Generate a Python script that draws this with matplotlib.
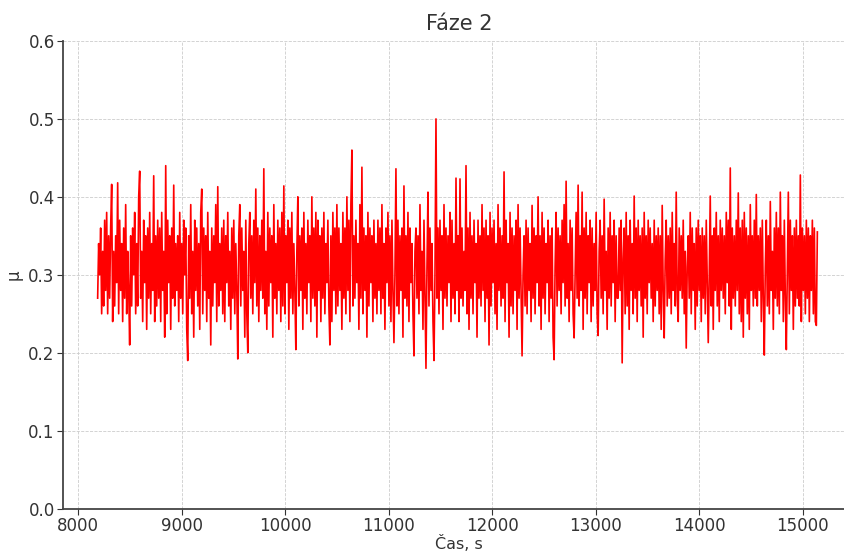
import numpy as np
import matplotlib.pyplot as plt

# friction coefficient samples, phase 2 (8190 s .. 15140 s, evenly sampled)
t_start = 8190
t_end = 15140
mu_vals = [
    0.27, 0.34, 0.30, 0.36, 0.25, 0.33, 0.26, 0.37, 0.28, 0.38, 0.25, 0.35, 0.27, 0.36, 0.416, 0.24, 0.33, 0.26, 0.35, 0.29,
    0.418, 0.25, 0.37, 0.28, 0.34, 0.24, 0.36, 0.27, 0.39, 0.25, 0.33, 0.28, 0.21, 0.35, 0.26, 0.36, 0.30, 0.38, 0.25, 0.34,
    0.26, 0.40, 0.433, 0.27, 0.33, 0.24, 0.37, 0.29, 0.35, 0.23, 0.36, 0.27, 0.38, 0.25, 0.34, 0.28, 0.427, 0.24, 0.35, 0.26,
    0.37, 0.27, 0.36, 0.24, 0.38, 0.28, 0.33, 0.22, 0.44, 0.25, 0.37, 0.29, 0.35, 0.23, 0.36, 0.27, 0.415, 0.26, 0.34, 0.28,
    0.35, 0.24, 0.38, 0.27, 0.34, 0.25, 0.37, 0.30, 0.36, 0.23, 0.19, 0.35, 0.27, 0.39, 0.25, 0.33, 0.22, 0.37, 0.28, 0.36,
    0.26, 0.34, 0.23, 0.38, 0.41, 0.25, 0.36, 0.28, 0.35, 0.24, 0.38, 0.27, 0.33, 0.21, 0.36, 0.26, 0.35, 0.29, 0.39, 0.24,
    0.413, 0.26, 0.34, 0.28, 0.36, 0.25, 0.37, 0.24, 0.35, 0.29, 0.38, 0.26, 0.33, 0.23, 0.36, 0.27, 0.37, 0.25, 0.34, 0.28,
    0.192, 0.35, 0.39, 0.26, 0.36, 0.28, 0.33, 0.22, 0.37, 0.25, 0.20, 0.34, 0.38, 0.27, 0.35, 0.25, 0.37, 0.29, 0.41, 0.26,
    0.36, 0.24, 0.35, 0.28, 0.37, 0.27, 0.436, 0.25, 0.33, 0.23, 0.38, 0.26, 0.36, 0.29, 0.35, 0.22, 0.39, 0.27, 0.34, 0.25,
    0.37, 0.28, 0.36, 0.24, 0.38, 0.26, 0.414, 0.25, 0.35, 0.29, 0.37, 0.23, 0.36, 0.27, 0.38, 0.25, 0.34, 0.28, 0.204, 0.33,
    0.40, 0.26, 0.35, 0.28, 0.36, 0.23, 0.38, 0.27, 0.34, 0.25, 0.37, 0.29, 0.35, 0.24, 0.40, 0.27, 0.36, 0.26, 0.38, 0.22,
    0.37, 0.28, 0.35, 0.24, 0.36, 0.27, 0.38, 0.25, 0.34, 0.29, 0.37, 0.26, 0.21, 0.35, 0.24, 0.38, 0.28, 0.36, 0.25, 0.39,
    0.26, 0.36, 0.28, 0.34, 0.23, 0.38, 0.27, 0.36, 0.25, 0.40, 0.28, 0.37, 0.24, 0.39, 0.46, 0.26, 0.35, 0.27, 0.37, 0.29,
    0.34, 0.23, 0.39, 0.27, 0.438, 0.25, 0.36, 0.28, 0.35, 0.22, 0.38, 0.26, 0.36, 0.29, 0.35, 0.24, 0.37, 0.27, 0.34, 0.25,
    0.37, 0.28, 0.36, 0.25, 0.39, 0.27, 0.34, 0.23, 0.36, 0.29, 0.38, 0.26, 0.35, 0.24, 0.37, 0.28, 0.213, 0.30, 0.436, 0.26,
    0.37, 0.25, 0.35, 0.28, 0.36, 0.22, 0.414, 0.27, 0.35, 0.26, 0.38, 0.24, 0.36, 0.29, 0.34, 0.25, 0.196, 0.33, 0.36, 0.27,
    0.35, 0.25, 0.39, 0.28, 0.33, 0.23, 0.37, 0.27, 0.18, 0.31, 0.406, 0.26, 0.36, 0.28, 0.34, 0.24, 0.19, 0.30, 0.50, 0.27,
    0.36, 0.25, 0.37, 0.28, 0.35, 0.23, 0.39, 0.27, 0.36, 0.26, 0.35, 0.29, 0.38, 0.24, 0.37, 0.27, 0.34, 0.25, 0.424, 0.28,
    0.35, 0.24, 0.423, 0.27, 0.36, 0.26, 0.33, 0.28, 0.44, 0.25, 0.36, 0.23, 0.38, 0.27, 0.35, 0.25, 0.37, 0.29, 0.34, 0.22,
    0.37, 0.27, 0.35, 0.26, 0.39, 0.28, 0.36, 0.24, 0.37, 0.27, 0.35, 0.21, 0.38, 0.26, 0.36, 0.29, 0.37, 0.25, 0.34, 0.23,
    0.39, 0.28, 0.36, 0.26, 0.35, 0.27, 0.432, 0.24, 0.37, 0.29, 0.34, 0.22, 0.38, 0.26, 0.36, 0.25, 0.35, 0.28, 0.37, 0.23,
    0.39, 0.27, 0.36, 0.28, 0.196, 0.30, 0.35, 0.26, 0.37, 0.25, 0.36, 0.28, 0.34, 0.24, 0.389, 0.27, 0.36, 0.25, 0.35, 0.29,
    0.40, 0.26, 0.35, 0.23, 0.38, 0.27, 0.36, 0.25, 0.34, 0.29, 0.37, 0.24, 0.35, 0.27, 0.36, 0.22, 0.191, 0.31, 0.38, 0.26,
    0.36, 0.28, 0.35, 0.25, 0.37, 0.29, 0.39, 0.26, 0.42, 0.27, 0.34, 0.24, 0.37, 0.28, 0.36, 0.25, 0.219, 0.30, 0.38, 0.27,
    0.415, 0.26, 0.35, 0.28, 0.406, 0.23, 0.36, 0.27, 0.38, 0.25, 0.35, 0.29, 0.37, 0.24, 0.36, 0.26, 0.34, 0.28, 0.38, 0.25,
    0.222, 0.33, 0.37, 0.27, 0.35, 0.25, 0.397, 0.28, 0.33, 0.23, 0.36, 0.27, 0.38, 0.26, 0.35, 0.29, 0.37, 0.24, 0.35, 0.27,
    0.27, 0.36, 0.28, 0.37, 0.187, 0.32, 0.36, 0.25, 0.38, 0.26, 0.35, 0.23, 0.37, 0.28, 0.34, 0.25, 0.401, 0.27, 0.36, 0.24,
    0.37, 0.28, 0.35, 0.26, 0.36, 0.22, 0.38, 0.27, 0.35, 0.25, 0.37, 0.29, 0.36, 0.27, 0.34, 0.24, 0.37, 0.26, 0.35, 0.28,
    0.36, 0.25, 0.35, 0.23, 0.389, 0.28, 0.219, 0.32, 0.37, 0.26, 0.35, 0.27, 0.36, 0.25, 0.38, 0.28, 0.34, 0.26, 0.406, 0.27,
    0.24, 0.36, 0.28, 0.35, 0.27, 0.37, 0.25, 0.33, 0.206, 0.31, 0.35, 0.27, 0.38, 0.25, 0.36, 0.28, 0.34, 0.23, 0.36, 0.26,
    0.37, 0.28, 0.35, 0.24, 0.36, 0.27, 0.35, 0.25, 0.37, 0.29, 0.213, 0.30, 0.401, 0.26, 0.35, 0.23, 0.36, 0.28, 0.38, 0.26,
    0.35, 0.24, 0.37, 0.28, 0.36, 0.27, 0.35, 0.25, 0.38, 0.29, 0.37, 0.26, 0.437, 0.23, 0.36, 0.27, 0.35, 0.26, 0.37, 0.28,
    0.405, 0.25, 0.36, 0.24, 0.37, 0.22, 0.38, 0.27, 0.36, 0.25, 0.35, 0.23, 0.39, 0.28, 0.35, 0.26, 0.37, 0.27, 0.403, 0.26,
    0.35, 0.28, 0.36, 0.24, 0.37, 0.27, 0.197, 0.31, 0.37, 0.26, 0.35, 0.25, 0.394, 0.28, 0.33, 0.23, 0.36, 0.27, 0.38, 0.26,
    0.36, 0.25, 0.406, 0.28, 0.35, 0.24, 0.37, 0.27, 0.204, 0.30, 0.406, 0.25, 0.37, 0.28, 0.35, 0.23, 0.36, 0.26, 0.37, 0.27,
    0.35, 0.26, 0.428, 0.24, 0.36, 0.28, 0.35, 0.25, 0.37, 0.27, 0.36, 0.24, 0.35, 0.28, 0.37, 0.25, 0.36, 0.24, 0.235, 0.355,
]
t = np.linspace(t_start, t_end, len(mu_vals))

fig = plt.figure(figsize=(8.44, 5.54), dpi=100)
ax = fig.add_axes([0.0746, 0.082, 0.938, 0.844])

ax.plot(t, mu_vals, color='#ff0000', lw=1.2)

ax.set_xlim(7855, 15500)
ax.set_ylim(0.0, 0.6)
ax.set_xticks(range(8000, 15001, 1000))
ax.set_yticks([0.0, 0.1, 0.2, 0.3, 0.4, 0.5, 0.6])

ax.grid(True, ls='--', lw=0.6, color='#cccccc')
ax.set_axisbelow(True)
for s in ['top', 'right']:
    ax.spines[s].set_visible(False)
for s in ['left', 'bottom']:
    ax.spines[s].set_color('#444444')
    ax.spines[s].set_linewidth(1.3)
ax.tick_params(labelsize=12, colors='#333333', length=4, pad=2)

ax.set_title('Fáze 2', fontsize=15, color='#333333', pad=8)
ax.set_xlabel('Čas, s', fontsize=11.5, color='#333333', labelpad=0)
ax.set_ylabel('μ', fontsize=12, color='#333333')

fig.savefig('out.png', dpi=100)
